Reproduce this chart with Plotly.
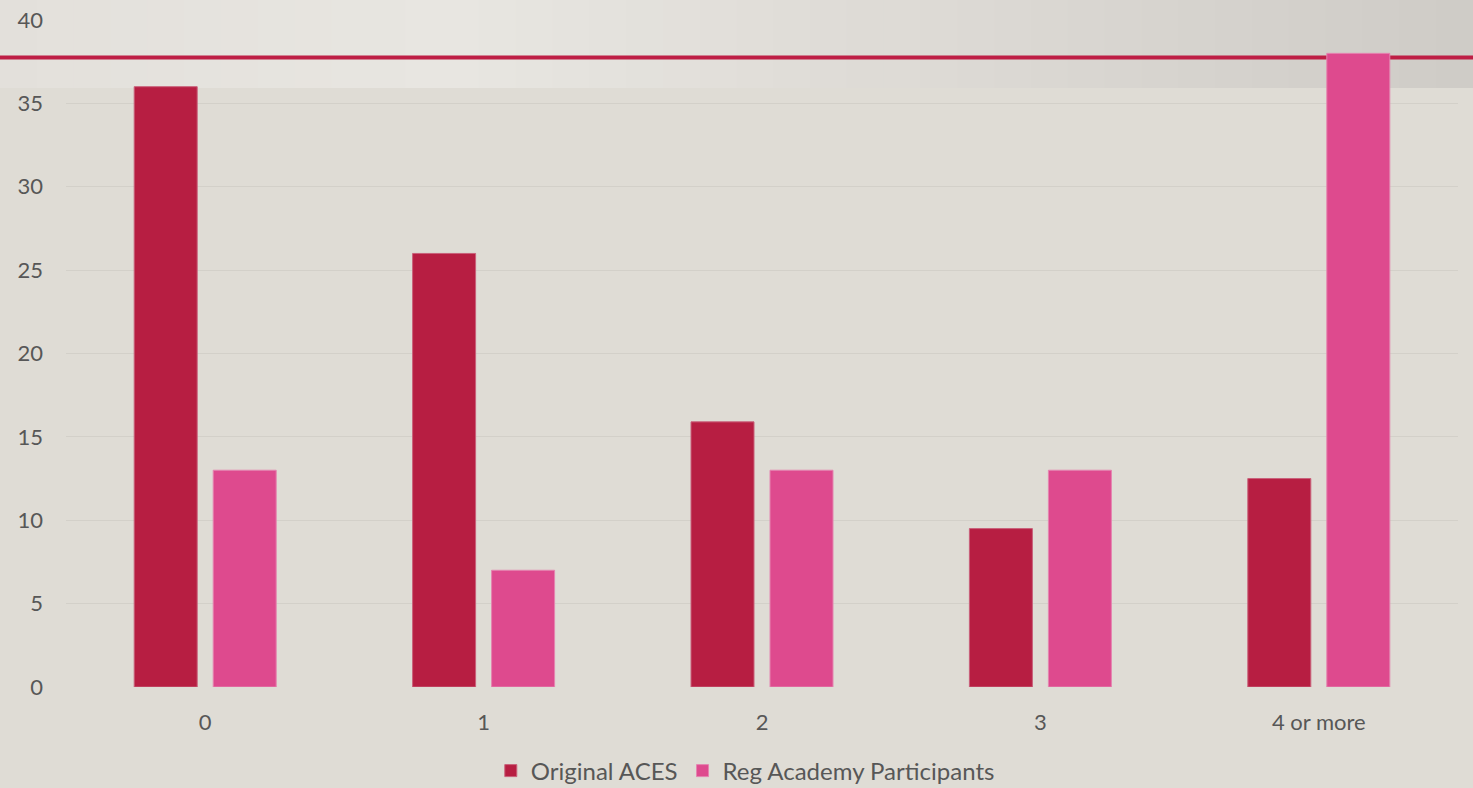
import plotly.graph_objects as go

categories = ["0", "1", "2", "3", "4 or more"]
original_aces = [36, 26, 15.9, 9.5, 12.5]
reg_academy = [13, 7, 13, 13, 38]
y_ticks = [0, 5, 10, 15, 20, 25, 30, 35, 40]

W, H = 1473, 788
ML, MR, MT, MB = 66, 15, 20, 101
PH = H - MT - MB
PW = W - ML - MR
RED = "#B71E42"
PINK = "#DE4A8E"
BG = "#DFDCD5"
TXT = "#575757"

fig = go.Figure()
fig.add_trace(go.Bar(name="Original ACES", x=categories, y=original_aces,
                     marker=dict(color=RED, line=dict(color="#C9607A", width=1))))
fig.add_trace(go.Bar(name="Reg Academy Participants", x=categories, y=reg_academy,
                     marker=dict(color=PINK, line=dict(color="#E584B0", width=1))))

def px_x(p):
    return (p - ML) / PW

def px_y(p):
    return (H - MB - p) / PH

def lerp(c1, c2, t):
    return tuple(round(a + (b - a) * t) for a, b in zip(c1, c2))

stops = [(0.0, (227, 224, 219)), (0.3, (232, 230, 225)), (0.6, (222, 219, 214)), (1.0, (207, 204, 199))]
n = 40
shapes = []
for i in range(n):
    t = (i + 0.5) / n
    c = stops[-1][1]
    for j in range(len(stops) - 1):
        if stops[j][0] <= t <= stops[j + 1][0]:
            tt = (t - stops[j][0]) / (stops[j + 1][0] - stops[j][0])
            c = lerp(stops[j][1], stops[j + 1][1], tt)
            break
    shapes.append(dict(type="rect", xref="paper", yref="paper", layer="below",
                       x0=px_x(i * W / n), x1=px_x((i + 1) * W / n + 1),
                       y0=px_y(88), y1=px_y(-2),
                       fillcolor="rgb(%d,%d,%d)" % c, line=dict(width=0)))
shapes.append(dict(type="line", xref="paper", yref="paper", layer="below",
                   x0=px_x(0), x1=px_x(W), y0=px_y(57.5), y1=px_y(57.5),
                   line=dict(color="#BE1E45", width=4)))

fig.update_layout(
    width=W, height=H,
    paper_bgcolor=BG, plot_bgcolor="rgba(0,0,0,0)",
    margin=dict(l=ML, r=MR, t=MT, b=MB, autoexpand=False),
    barmode="group", bargap=0.4325, bargroupgap=0.2025,
    font=dict(family="Lato, Open Sans, sans-serif", size=22, color=TXT),
    shapes=shapes,
    legend=dict(orientation="h", x=0.488, xanchor="center", y=px_y(771), yanchor="middle",
                font=dict(size=24, color=TXT), itemwidth=30,
                bgcolor="rgba(0,0,0,0)"),
    xaxis=dict(showgrid=False, zeroline=False, showline=False, ticks="",
               ticklabelstandoff=20, tickfont=dict(size=22, color=TXT)),
    yaxis=dict(range=[0, 40], tickvals=y_ticks, showgrid=True, gridcolor="#D3D0C9",
               gridwidth=1, zeroline=False, showline=False, ticks="",
               ticklabelstandoff=22, tickfont=dict(size=22, color=TXT)),
)

fig.write_html("out.html", config={"displayModeBar": False},
               post_script="document.body.style.margin='0';document.body.style.overflow='hidden';")
